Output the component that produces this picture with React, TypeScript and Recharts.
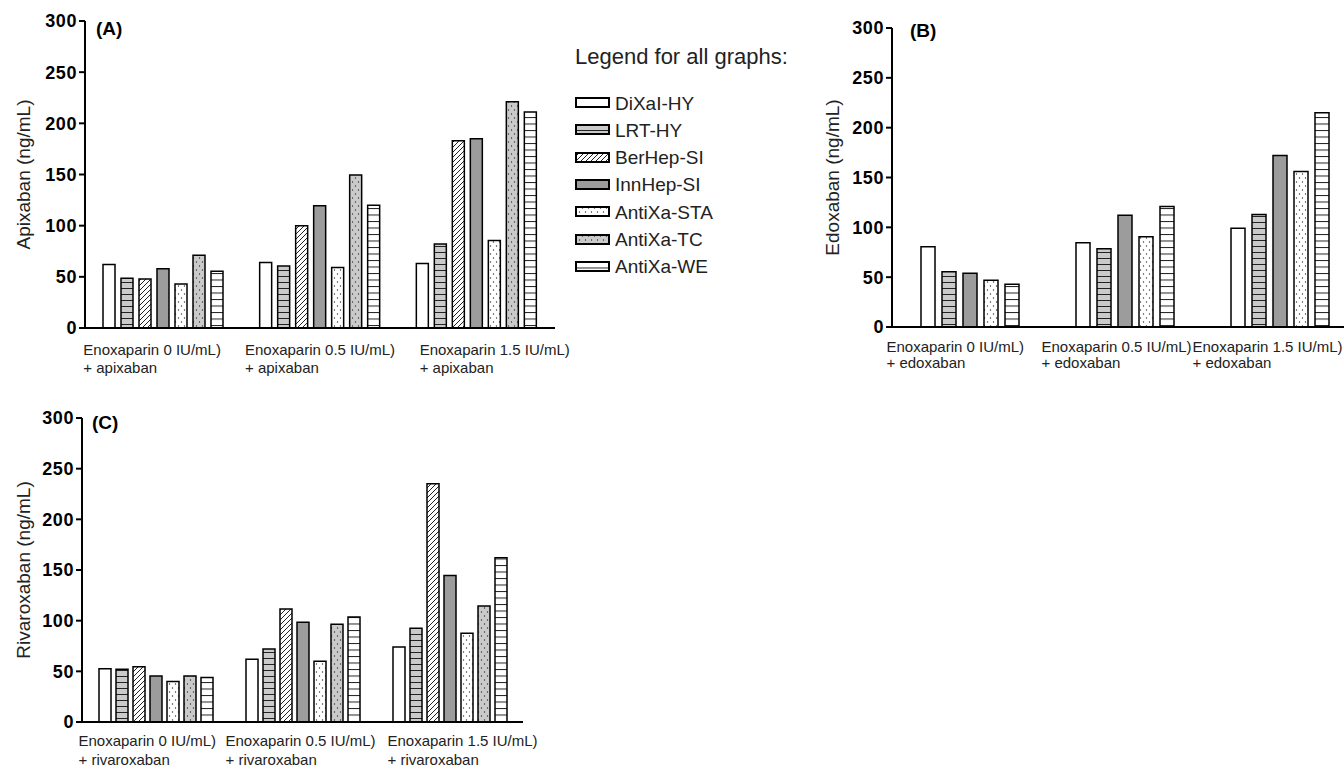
import { BarChart, Bar, XAxis, YAxis } from 'recharts';

const GROUPS = ['Enoxaparin 0 IU/mL)', 'Enoxaparin 0.5 IU/mL)', 'Enoxaparin 1.5 IU/mL)'];
const SERIES = ['DiXaI-HY', 'LRT-HY', 'BerHep-SI', 'InnHep-SI', 'AntiXa-STA', 'AntiXa-TC', 'AntiXa-WE'];
const SERIES_B = ['DiXaI-HY', 'LRT-HY', 'InnHep-SI', 'AntiXa-STA', 'AntiXa-WE'];
const Y_TICKS = [0, 50, 100, 150, 200, 250, 300];

// values per enoxaparin group, in SERIES order
const apixaban0 = [62, 48.5, 47.8, 58, 43, 71, 55.5];
const apixaban05 = [64, 60.5, 100, 119.5, 59, 149.5, 120];
const apixaban15 = [63, 82, 183, 185, 85.5, 221, 211];

// edoxaban has no BerHep-SI / AntiXa-TC bars (SERIES_B order)
const edoxaban0 = [80.5, 55.5, 54, 47, 43];
const edoxaban05 = [84.5, 78.5, 112, 90.5, 121];
const edoxaban15 = [99, 113, 172, 156, 215];

const rivaroxaban0 = [52.5, 52, 54.5, 45.5, 40, 45.5, 44];
const rivaroxaban05 = [62, 72, 111.5, 98.5, 60, 96.5, 103.5];
const rivaroxaban15 = [74, 92.5, 235, 144.5, 87.5, 114.5, 162];

const FILL: Record<string, string> = {
  'DiXaI-HY': '#ffffff',
  'LRT-HY': 'url(#pLrt)',
  'BerHep-SI': 'url(#pDiag)',
  'InnHep-SI': '#9c9c9c',
  'AntiXa-STA': 'url(#pDotW)',
  'AntiXa-TC': 'url(#pDotG)',
  'AntiXa-WE': 'url(#pWe)',
};

const FONT = '"Liberation Sans", Arial, Helvetica, sans-serif';

function buildRows(names: string[], lists: number[][]) {
  return GROUPS.map((g, gi) => {
    const row: Record<string, any> = { group: g };
    names.forEach((n, i) => { row[n] = lists[gi][i]; });
    return row;
  });
}

const apixabanData = buildRows(SERIES, [apixaban0, apixaban05, apixaban15]);
const edoxabanData = buildRows(SERIES_B, [edoxaban0, edoxaban05, edoxaban15]);
const rivaroxabanData = buildRows(SERIES, [rivaroxaban0, rivaroxaban05, rivaroxaban15]);

function Patterns() {
  return (
    <svg width={0} height={0} style={{ position: 'absolute' }}>
      <defs>
        <pattern id="pLrt" patternUnits="userSpaceOnUse" width={6} height={6}>
          <rect width={6} height={6} fill="#cacaca" />
          <line x1={0} y1={0.5} x2={6} y2={0.5} stroke="#222" strokeWidth={1} />
        </pattern>
        <pattern id="pWe" patternUnits="userSpaceOnUse" width={6} height={6.5}>
          <rect width={6} height={6.5} fill="#ffffff" />
          <line x1={0} y1={0.5} x2={6} y2={0.5} stroke="#222" strokeWidth={1} />
        </pattern>
        <pattern id="pDiag" patternUnits="userSpaceOnUse" width={5} height={5}>
          <rect width={5} height={5} fill="#ffffff" />
          <path d="M0,5 L5,0 M-1,1 L1,-1 M4,6 L6,4" stroke="#222" strokeWidth={1} />
        </pattern>
        <pattern id="pDotW" patternUnits="userSpaceOnUse" width={6} height={8}>
          <rect width={6} height={8} fill="#ffffff" />
          <circle cx={1.5} cy={2} r={0.7} fill="#333" />
          <circle cx={4.5} cy={6} r={0.7} fill="#333" />
        </pattern>
        <pattern id="pDotG" patternUnits="userSpaceOnUse" width={6} height={8}>
          <rect width={6} height={8} fill="#cacaca" />
          <circle cx={1.5} cy={2} r={0.7} fill="#333" />
          <circle cx={4.5} cy={6} r={0.7} fill="#333" />
        </pattern>
      </defs>
    </svg>
  );
}

const makeTick = (drug: string, offsets: number[], dy1: number, dy2: number) => (props: any) => {
  const { x, y, payload, index } = props;
  const x0 = x + offsets[index];
  return (
    <g>
      <text x={x0} y={y + dy1} fontSize={15} fill="#222" fontFamily={FONT}>{payload.value}</text>
      <text x={x0} y={y + dy2} fontSize={15} fill="#222" fontFamily={FONT}>{'+ ' + drug}</text>
    </g>
  );
};

interface PanelProps {
  data: any[];
  names: string[];
  width: number;
  height: number;
  top: number;
  bottom: number;
  axisX: number;
  right: number;
  barSize: number;
  barGap: number;
  yLabel: string;
  yLabelX: number;
  tick: (p: any) => any;
}

function Panel(p: PanelProps) {
  return (
    <BarChart
      width={p.width}
      height={p.height}
      data={p.data}
      margin={{ top: p.top, right: p.right, left: 0, bottom: p.bottom }}
      barGap={p.barGap}
      style={{ overflow: 'visible' }}
    >
      <XAxis
        dataKey="group"
        interval={0}
        tickLine={false}
        tickSize={0}
        tickMargin={0}
        height={50}
        axisLine={{ stroke: '#000', strokeWidth: 2 }}
        tick={p.tick}
      />
      <YAxis
        domain={[0, 300]}
        ticks={Y_TICKS}
        width={p.axisX}
        tickSize={6}
        tickMargin={2}
        axisLine={{ stroke: '#000', strokeWidth: 2 }}
        tickLine={{ stroke: '#000', strokeWidth: 2 }}
        tick={{ fill: '#000', fontSize: 18, fontWeight: 'bold', fontFamily: FONT, letterSpacing: 0.6 }}
        label={{
          value: p.yLabel,
          angle: -90,
          position: 'insideLeft',
          offset: p.yLabelX,
          style: { textAnchor: 'middle', fill: '#222', fontSize: 19, fontFamily: FONT },
        }}
      />
      {p.names.map(n => (
        <Bar key={n} dataKey={n} fill={FILL[n]} stroke="#000" strokeWidth={1.5}
          barSize={p.barSize} isAnimationActive={false} />
      ))}
    </BarChart>
  );
}

function Legend() {
  return (
    <div style={{ position: 'absolute', left: 575, top: 0 }}>
      <div style={{ position: 'absolute', top: 46, left: 0, fontSize: 22, lineHeight: 1, whiteSpace: 'nowrap', color: '#222' }}>
        Legend for all graphs:
      </div>
      {SERIES.map((n, i) => (
        <div key={n} style={{ position: 'absolute', left: 0, top: 103 + i * 27.3 - 9.5, display: 'flex', alignItems: 'center', whiteSpace: 'nowrap' }}>
          <svg width={36} height={12} style={{ display: 'block' }}>
            <rect x={1} y={1} width={33} height={9} fill={FILL[n]} stroke="#000" strokeWidth={2} />
          </svg>
          <span style={{ fontSize: 19, lineHeight: '19px', color: '#222', marginLeft: 4 }}>{n}</span>
        </div>
      ))}
    </div>
  );
}

const letterStyle = { position: 'absolute' as const, fontSize: 19, fontWeight: 'bold' as const, lineHeight: 1, color: '#000' };

export default function App() {
  return (
    <div style={{ position: 'absolute', left: 0, top: 0, width: 1344, height: 767, overflow: 'hidden', background: '#fff', fontFamily: FONT }}>
      <Patterns />
      <div style={{ position: 'absolute', left: 0, top: 0 }}>
        <Panel data={apixabanData} names={SERIES} width={580} height={380} top={21} bottom={2}
          axisX={85} right={25} barSize={12} barGap={6} yLabel="Apixaban (ng/mL)" yLabelX={23}
          tick={makeTick('apixaban', [-80, -75, -57], 27, 45)} />
      </div>
      <div style={{ position: 'absolute', left: 800, top: 0 }}>
        <Panel data={edoxabanData} names={SERIES_B} width={570} height={380} top={28} bottom={3}
          axisX={92} right={13} barSize={14} barGap={7} yLabel="Edoxaban (ng/mL)" yLabelX={32}
          tick={makeTick('edoxaban', [-83, -83, -87], 25, 41)} />
      </div>
      <div style={{ position: 'absolute', left: 0, top: 370 }}>
        <Panel data={rivaroxabanData} names={SERIES} width={560} height={397} top={48} bottom={-5}
          axisX={82} right={37} barSize={12} barGap={5} yLabel="Rivaroxaban (ng/mL)" yLabelX={23}
          tick={makeTick('rivaroxaban', [-77, -77, -62], 24, 43)} />
      </div>
      <div style={{ ...letterStyle, left: 96, top: 19 }}>(A)</div>
      <div style={{ ...letterStyle, left: 910, top: 21 }}>(B)</div>
      <div style={{ ...letterStyle, left: 92, top: 413 }}>(C)</div>
      <Legend />
    </div>
  );
}
